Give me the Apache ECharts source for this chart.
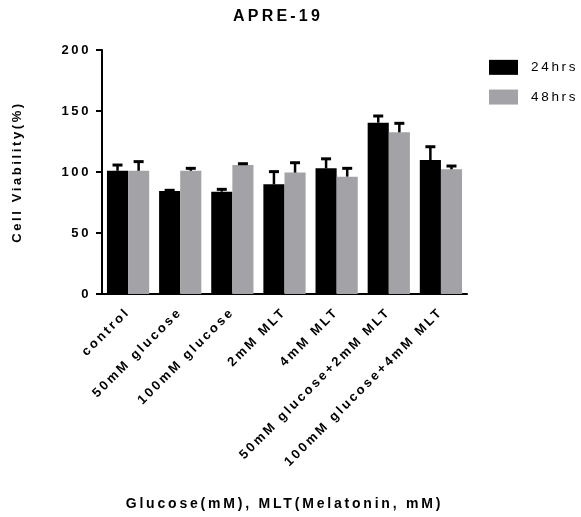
<!DOCTYPE html>
<html>
<head>
<meta charset="utf-8">
<script src="https://cdn.jsdelivr.net/npm/echarts@6/dist/echarts.min.js"></script>
<style>html,body{margin:0;padding:0;background:#fff}#c{width:581px;height:517px}</style>
</head>
<body>
<div id="c"></div>
<script>
// Letter-spaced text like the original export
(function(){
  var d = Object.getOwnPropertyDescriptor(CanvasRenderingContext2D.prototype, 'font');
  if (!d || !('letterSpacing' in CanvasRenderingContext2D.prototype)) return;
  Object.defineProperty(CanvasRenderingContext2D.prototype, 'font', {
    configurable: true,
    get: function(){ return d.get.call(this); },
    set: function(v){
      d.set.call(this, v);
      var m = /(\d+(?:\.\d+)?)px/.exec(v);
      var s = m ? parseFloat(m[1]) : 12;
      this.letterSpacing = (s * 0.2).toFixed(1) + 'px';
    }
  });
})();

const categories = ['control','50mM glucose','100mM glucose','2mM MLT','4mM MLT','50mM glucose+2mM MLT','100mM glucose+4mM MLT'];
const seriesNames = ['24hrs','48hrs'];
const mean24 = [101, 84.4, 83.9, 89.9, 103, 140.4, 109.8];
const err24  = [105.7, 85, 85.8, 100.3, 110.8, 145.9, 120.7];
const mean48 = [101, 101, 105.7, 99.5, 96.2, 132.5, 102.2];
const err48  = [108.5, 103, 106.8, 107.6, 103, 139.9, 104.9];
const yTicks = [0, 50, 100, 150, 200];

const colors = ['#000000', '#a3a3a7'];
const gapPct = 0.19;

function errSeries(idx, means, errs) {
  return {
    type: 'custom',
    silent: true,
    z: 5,
    data: means.map((m, i) => [i, m, errs[i]]),
    encode: { x: 0, y: 2 },
    renderItem: function (params, api) {
      const i = api.value(0);
      const band = api.size([1, 0])[0];
      const bw = band * (1 - gapPct) / 2;
      const c = api.coord([i, api.value(1)]);
      const t = api.coord([i, api.value(2)]);
      const x = c[0] + (idx === 0 ? -bw / 2 : bw / 2);
      return {
        type: 'group',
        children: [
          { type: 'line', shape: { x1: x, y1: c[1], x2: x, y2: t[1] }, style: { stroke: '#000', lineWidth: 2.5 } },
          { type: 'line', shape: { x1: x - 5, y1: t[1], x2: x + 5, y2: t[1] }, style: { stroke: '#000', lineWidth: 3 } }
        ]
      };
    }
  };
}

const chart = echarts.init(document.getElementById('c'), null, { renderer: 'canvas' });
chart.setOption({
  animation: false,
  backgroundColor: '#fff',
  textStyle: { fontFamily: 'Liberation Sans, Arial, sans-serif' },
  title: {
    text: 'APRE-19',
    left: 233, top: 7, padding: 0,
    textStyle: { fontSize: 16, fontWeight: 'bold', color: '#000' }
  },
  legend: {
    orient: 'vertical',
    left: 489, top: 59, padding: 0,
    itemWidth: 29, itemHeight: 15, itemGap: 13,
    icon: 'rect',
    data: seriesNames,
    textStyle: { fontSize: 13.5, color: '#000', padding: [0, 0, 0, 8] }
  },
  grid: { left: 102, right: 114, top: 50, bottom: 223, containLabel: false },
  xAxis: {
    type: 'category',
    data: categories,
    name: 'Glucose(mM), MLT(Melatonin, mM)',
    nameLocation: 'middle',
    nameGap: 202,
    nameTextStyle: { fontSize: 14, fontWeight: 'bold', color: '#000' },
    axisLine: { lineStyle: { color: '#000', width: 2 } },
    axisTick: { alignWithLabel: true, length: 6, lineStyle: { color: '#000', width: 2 } },
    axisLabel: { rotate: 45, fontSize: 13, fontWeight: 'bold', color: '#000', margin: 16, interval: 0 }
  },
  yAxis: {
    type: 'value',
    min: 0, max: 200, interval: 50,
    name: 'Cell Viability(%)',
    nameLocation: 'middle',
    nameGap: 77,
    nameTextStyle: { fontSize: 13, fontWeight: 'bold', color: '#000' },
    axisLine: { show: true, lineStyle: { color: '#000', width: 2 } },
    axisTick: { show: true, length: 6, lineStyle: { color: '#000', width: 2 } },
    splitLine: { show: false },
    axisLabel: {
      fontSize: 13, fontWeight: 'bold', color: '#000', margin: 11,
      formatter: v => yTicks.includes(v) ? String(v) : ''
    }
  },
  series: [
    { name: seriesNames[0], type: 'bar', data: mean24, itemStyle: { color: colors[0] }, barGap: '0%', barCategoryGap: (gapPct * 100) + '%' },
    { name: seriesNames[1], type: 'bar', data: mean48, itemStyle: { color: colors[1] }, barGap: '0%', barCategoryGap: (gapPct * 100) + '%' },
    errSeries(0, mean24, err24),
    errSeries(1, mean48, err48)
  ]
});
</script>
</body>
</html>
